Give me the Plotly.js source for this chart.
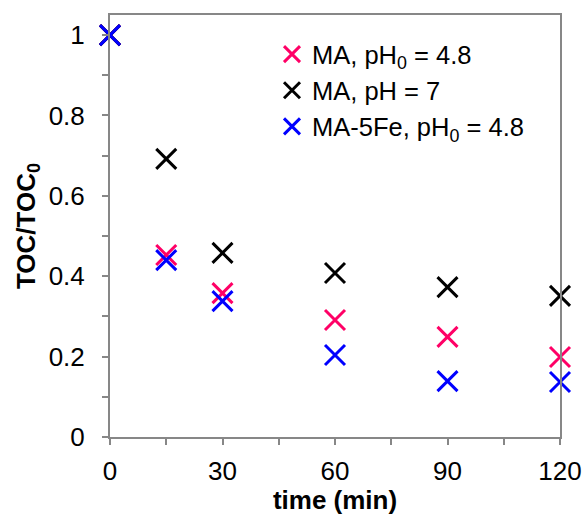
<!DOCTYPE html>
<html><head><meta charset="utf-8">
<script src="https://cdn.plot.ly/plotly-3.0.1.min.js"></script>
<style>html,body{margin:0;padding:0;background:#fff}#g{width:586px;height:515px}</style>
</head><body><div id="g"></div>
<script>
const time = [0, 15, 30, 60, 90, 120];
const ma48 = [1, 0.453, 0.358, 0.291, 0.249, 0.199];
const ma7 = [1, 0.692, 0.458, 0.408, 0.373, 0.351];
const ma5fe = [1, 0.440, 0.338, 0.204, 0.139, 0.137];
const names = ['MA, pH<sub>0</sub> = 4.8', 'MA, pH = 7', 'MA-5Fe, pH<sub>0</sub> = 4.8'];
const colors = ['#FF0066', '#000000', '#0000FF'];
const series = [ma48, ma7, ma5fe];
const FONT = 'Arial, "Liberation Sans", sans-serif';
const traces = series.map((s, i) => ({
  x: time, y: s, type: 'scatter', mode: 'markers', name: names[i], cliponaxis: false,
  marker: {symbol: 'x-thin', size: 20, line: {width: 3, color: colors[i]}, color: colors[i]}
}));
const axisCommon = {
  showline: true, linecolor: '#878787', linewidth: 2, mirror: true,
  ticks: 'outside', ticklen: 6, tickcolor: '#878787', tickwidth: 2,
  showgrid: false, zeroline: false,
  tickfont: {family: FONT, size: 26, color: '#000'}
};
const layout = {
  width: 586, height: 515,
  margin: {l: 110, r: 26, t: 15, b: 78},
  paper_bgcolor: '#fff', plot_bgcolor: '#fff',
  showlegend: true,
  legend: {x: 0.36, y: 0.962, xanchor: 'left', yanchor: 'top', bgcolor: 'rgba(0,0,0,0)',
    font: {family: FONT, size: 25.5, color: '#000'}, itemwidth: 30, tracegroupgap: 0},
  xaxis: Object.assign({}, axisCommon, {
    range: [0, 120], tickvals: [0, 30, 60, 90, 120], ticklabelstandoff: 4,
    minor: {dtick: 15, ticks: 'outside', ticklen: 6, tickcolor: '#878787', tickwidth: 2, showgrid: false},
    title: {text: '<b>time (min)</b>', font: {family: FONT, size: 26, color: '#000'}, standoff: 4}
  }),
  yaxis: Object.assign({}, axisCommon, {
    range: [0, 1.05], tickvals: [0, 0.2, 0.4, 0.6, 0.8, 1], ticktext: ['0', '0.2', '0.4', '0.6', '0.8', '1'],
    ticklabelstandoff: 12,
    minor: {dtick: 0.1, tick0: 0, ticks: 'outside', ticklen: 6, tickcolor: '#878787', tickwidth: 2, showgrid: false},
    title: {text: '<b>TOC/TOC<sub>0</sub></b>', font: {family: FONT, size: 26, color: '#000'}, standoff: 6}
  })
};
Plotly.newPlot('g', traces, layout, {displayModeBar: false, staticPlot: true});
</script></body></html>
